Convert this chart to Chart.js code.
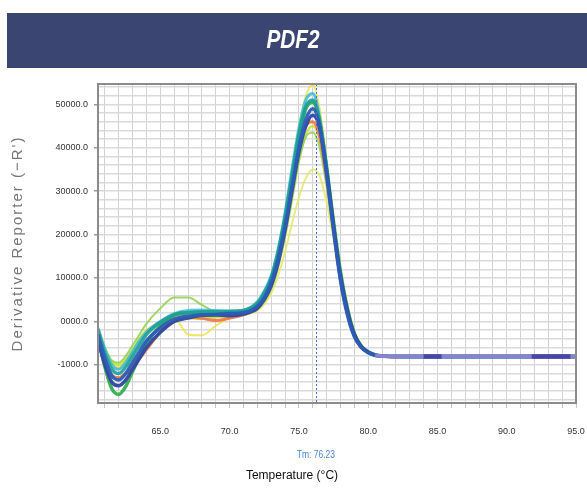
<!DOCTYPE html>
<html><head><meta charset="utf-8">
<script src="https://cdn.jsdelivr.net/npm/chart.js@4.4.0/dist/chart.umd.min.js"></script>
<style>html,body{margin:0;padding:0;background:#fff;}canvas{display:block}</style>
</head><body>
<canvas id="c" width="587" height="488"></canvas>
<script>
// ---- data ----
const chartTitle = "PDF2";
const xTitle = "Temperature (°C)";
const yTitle = "Derivative Reporter (\u2212R')";
const tmValue = 76.23;
const tmLabel = "Tm: 76.23";
const xTickValues = [65, 70, 75, 80, 85, 90, 95];
const xTickLabels = ["65.0", "70.0", "75.0", "80.0", "85.0", "90.0", "95.0"];
const yTickValues = [-10000, 0, 10000, 20000, 30000, 40000, 50000];
const yTickLabels = ["-1000.0", "0000.0", "10000.0", "20000.0", "30000.0", "40000.0", "50000.0"];

const temps = [60.5,61,61.5,62,62.5,63,63.5,64,65,66,67,68,69,70,71,72,72.5,73,73.5,74,74.5,75,75.5,76,76.5,77,77.5,78,78.5,79,79.5,80,80.5,81,82,84,85.3,88,91.8,92.9,93.2,94.6,95];

const blueA  = [-3000,-8500,-12500,-13500,-12000,-9500,-7000,-4500,-1500,500,1200,1500,1600,1800,2000,3500,5500,9000,14500,22000,31000,40000,46500,49000,45000,34000,21000,9500,1500,-3500,-6000,-7200,-7800,-8000,-8100,-8100,-8100,-8100,-8100,-8100,-8100,-8100,-8100];
const blueB  = [-4500,-10000,-14000,-14800,-13500,-11000,-8500,-6000,-2500,0,800,1400,1500,1300,1700,3000,5000,8200,13500,21000,30000,39000,45000,47500,44500,34500,22000,10500,2500,-3000,-5800,-7100,-7700,-8000,-8100,-8100,-8100,-8100,-8100,-8100,-8100,-8100,-8100];
const teal   = [-2000,-7500,-11000,-12000,-10500,-8000,-5500,-3000,-200,1500,2000,2200,2200,2300,2500,4200,6500,10000,16000,24000,33500,43000,49500,51000,46000,35000,22000,10000,2000,-3200,-5900,-7100,-7800,-8000,-8100,-8100,-8100,-8100,-8100,-8100,-8100,-8100,-8100];
const cyan   = [-1500,-6500,-10000,-11000,-9500,-7000,-4500,-2500,0,1800,2500,2600,2500,2400,2600,4500,7000,10500,16500,25000,35000,44500,51000,52500,47000,35500,22500,10500,2500,-3000,-5800,-7000,-7700,-8000,-8100,-8100,-8100,-8100,-8100,-8100,-8100,-8100,-8100];
const green  = [-3500,-10500,-15500,-16800,-15000,-11500,-8000,-5000,-1000,1500,2000,2000,1800,1900,2300,4000,6200,9800,15500,23500,33000,42500,49000,50500,46000,35500,23000,11500,3000,-2800,-5700,-7000,-7700,-8000,-8100,-8100,-8100,-8100,-8100,-8100,-8100,-8100,-8100];
const lightGreen = [-1500,-6000,-9000,-9500,-8000,-5500,-3000,-500,3000,5500,5500,3800,2200,1500,1700,3200,5000,8000,13000,20000,28500,37000,42500,43500,40000,31000,20000,9500,2000,-3000,-5800,-7100,-7800,-8000,-8100,-8100,-8100,-8100,-8100,-8100,-8100,-8100,-8100];
const yellowGreen = [-2500,-7000,-9500,-10000,-8800,-6500,-4000,-2000,-500,800,700,600,900,1200,1600,2800,4500,7500,12500,19500,28000,37000,43000,45000,42000,33500,22500,11500,3500,-2500,-5500,-7000,-7700,-8000,-8100,-8100,-8100,-8100,-8100,-8100,-8100,-8100,-8100];
const yellow = [-2000,-6500,-9500,-10500,-9000,-6500,-4200,-2200,0,800,-3000,-3200,-1000,800,1500,3000,5000,8500,14500,23000,33500,44500,52000,54500,49000,37000,23500,11000,2500,-3000,-5800,-7100,-7800,-8000,-8100,-8100,-8100,-8100,-8100,-8100,-8100,-8100,-8100];
const yellowLow = [-2500,-7000,-10000,-11000,-9500,-7000,-4500,-2500,-500,1000,1500,1200,1000,1200,1500,2500,4000,6500,10500,16000,22500,28500,33000,35000,33500,27500,19000,10000,3000,-2500,-5500,-7000,-7700,-8000,-8100,-8100,-8100,-8100,-8100,-8100,-8100,-8100,-8100];
const orange = [-4000,-9500,-12500,-13000,-12000,-10500,-8500,-6500,-2500,0,1000,700,200,800,1500,3200,5300,8800,14300,22000,31000,40000,45000,46000,42500,33000,21000,9500,1800,-3300,-6000,-7200,-7800,-8000,-8100,-8100,-8100,-8100,-8100,-8100,-8100,-8100,-8100];
const tailPurple = [null,null,null,null,null,null,null,null,null,null,null,null,null,null,null,null,null,null,null,null,null,null,null,null,null,null,null,null,null,null,null,null,-7800,-8000,-8100,-8100,-8100,-8100,-8100,-8100,-8100,-8100,-8100];
const tailDark = [null,null,null,null,null,null,null,null,null,null,null,null,null,null,null,null,null,null,null,null,null,null,null,null,null,null,null,null,null,null,null,null,null,null,null,-8100,-8100,null,-8100,-8100,-8100,-8100,null];

// ---- build datasets ----
function pts(vals){ return temps.map((t,i)=>({x:t, y:vals[i]})); }
const seriesDefs = [
  {label:'tailDark', vals: tailDark, color:'#4a46a8', w:4.5},
  {label:'tailPurple', vals: tailPurple, color:'#8a82cf', w:4},
  {label:'blueA', vals: blueA, color:'rgba(44,92,184,0.95)', w:3.5},
  {label:'blueB', vals: blueB, color:'rgba(46,72,160,0.95)', w:3.5},
  {label:'teal', vals: teal, color:'rgba(30,158,152,0.9)', w:3.5},
  {label:'orange', vals: orange, color:'rgba(240,116,64,0.9)', w:3},
  {label:'green', vals: green, color:'rgba(42,170,72,0.9)', w:3.5},
  {label:'cyan', vals: cyan, color:'rgba(56,184,220,0.85)', w:3},
  {label:'lightGreen', vals: lightGreen, color:'rgba(143,208,74,0.85)', w:2},
  {label:'yellowGreen', vals: yellowGreen, color:'rgba(197,224,60,0.85)', w:2.5},
  {label:'yellow', vals: yellow, color:'rgba(236,226,74,0.85)', w:2},
  {label:'yellowLow', vals: yellowLow, color:'rgba(228,232,106,0.85)', w:2}
];
const datasets = seriesDefs.map(s=>({
  label: s.label, data: pts(s.vals), borderColor: s.color, borderWidth: s.w,
  pointRadius: 0, fill: false, cubicInterpolationMode: 'monotone', spanGaps: false
}));

const sansFont = "'Liberation Sans',Arial,sans-serif";

const framePlugin = {
  id: 'frame',
  beforeDraw(chart){
    const ctx = chart.ctx;
    ctx.save();
    ctx.fillStyle = '#fff';
    ctx.fillRect(0,0,chart.width,chart.height);
    ctx.fillStyle = '#3a4671';
    ctx.fillRect(7,13,chart.width-7,55);
    ctx.fillStyle = '#ffffff';
    ctx.font = "italic bold 26px " + sansFont;
    ctx.textAlign = 'center';
    ctx.textBaseline = 'middle';
    ctx.translate(293, 41);
    ctx.scale(0.8, 1);
    ctx.fillText(chartTitle, 0, 0);
    ctx.restore();
  },
  afterDatasetsDraw(chart){
    const ctx = chart.ctx, a = chart.chartArea;
    const x = chart.scales.x.getPixelForValue(tmValue);
    ctx.save();
    ctx.strokeStyle = '#4d6fcf';
    ctx.lineWidth = 1;
    ctx.setLineDash([2,2]);
    ctx.beginPath(); ctx.moveTo(Math.round(x)+0.5, a.top); ctx.lineTo(Math.round(x)+0.5, a.bottom); ctx.stroke();
    ctx.setLineDash([]);
    ctx.strokeStyle = '#8c8c8c';
    ctx.lineWidth = 2;
    ctx.strokeRect(a.left, a.top, a.right-a.left, a.bottom-a.top);
    ctx.fillStyle = '#4a86d8';
    ctx.font = "10px " + sansFont;
    ctx.textAlign = 'center';
    ctx.textBaseline = 'middle';
    ctx.translate(x, 455);
    ctx.scale(0.85, 1);
    ctx.fillText(tmLabel, 0, 0);
    ctx.restore();
  }
};

function wrapTitle(scale, spacing, dx){
  if (scale._wrappedTitle) return;
  scale._wrappedTitle = true;
  const orig = scale.drawTitle.bind(scale);
  scale.drawTitle = function(){
    const ctx = this.ctx;
    ctx.save();
    ctx.letterSpacing = spacing;
    ctx.translate(dx, 0);
    orig.apply(null, arguments);
    ctx.restore();
  };
}

new Chart(document.getElementById('c'), {
  type: 'line',
  data: { datasets },
  options: {
    responsive: false, animation: false, devicePixelRatio: 1,
    layout: { padding: { top: 84, right: 11, left: 0, bottom: 0 } },
    plugins: { legend: { display: false }, tooltip: { enabled: false }, title: { display: false } },
    scales: {
      x: {
        type: 'linear', min: 60.5, max: 95,
        afterBuildTicks(scale){ const t=[]; for(let v=61; v<=95; v++) t.push({value:v}); scale.ticks = t; },
        afterFit(scale){ scale.height = 85; scale.paddingLeft = 0; scale.paddingRight = 0; wrapTitle(scale, '0px', -45); },
        ticks: {
          autoSkip: false, maxRotation: 0, padding: 18, color: '#333',
          font: { family: sansFont, size: 9 },
          callback(v){ const i = xTickValues.indexOf(v); return i >= 0 ? xTickLabels[i] : ''; }
        },
        grid: { color: '#d2d2d2', lineWidth: 1, tickLength: 5, tickColor: '#c4c4c4' },
        border: { display: false },
        title: { display: true, text: xTitle, color: '#111', font: { family: sansFont, size: 12 }, padding: { top: 5, bottom: 5 } }
      },
      y: {
        type: 'linear', min: -18800, max: 54700,
        afterBuildTicks(scale){ const t=[]; for(let v=-18000; v<=54000; v+=2000) t.push({value:v}); scale.ticks = t; },
        afterFit(scale){ scale.width = 98; wrapTitle(scale, '2px', 0); },
        ticks: {
          autoSkip: false, padding: 6, color: '#333',
          font: { family: sansFont, size: 9 },
          callback(v){ const i = yTickValues.indexOf(v); return i >= 0 ? yTickLabels[i] : ''; }
        },
        grid: {
          color: '#dadada', lineWidth: 1.5, tickLength: 4,
          tickColor: (c)=> (c.tick && yTickValues.indexOf(c.tick.value) >= 0) ? '#999' : 'rgba(0,0,0,0)'
        },
        border: { display: false },
        title: { display: true, text: yTitle, color: '#777', font: { family: sansFont, size: 15 }, padding: { top: 9, bottom: 0 } }
      }
    }
  },
  plugins: [framePlugin]
});
</script>
</body></html>
